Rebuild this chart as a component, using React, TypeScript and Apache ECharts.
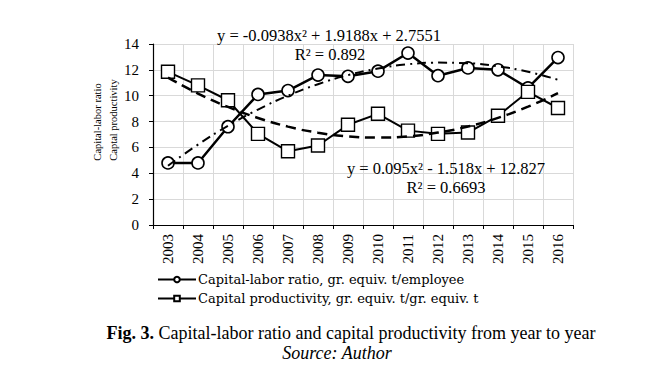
import React, { useEffect, useRef } from "react";
import * as echarts from "echarts";

const years = ["2003", "2004", "2005", "2006", "2007", "2008", "2009", "2010", "2011", "2012", "2013", "2014", "2015", "2016"];
const laborRatio = [4.8, 4.8, 7.6, 10.1, 10.4, 11.6, 11.5, 11.9, 13.3, 11.55, 12.15, 12.0, 10.6, 12.95];
const productivity = [11.85, 10.8, 9.65, 7.05, 5.7, 6.15, 7.75, 8.6, 7.3, 7.05, 7.15, 8.45, 10.3, 9.05];
// Trend lines as printed on the chart (polynomial, order 2)
const laborTrend = [4.58, 6.22, 7.67, 8.93, 10.0, 10.89, 11.59, 12.1, 12.43, 12.56, 12.51, 12.27, 11.85, 11.23];
const productivityTrend = [11.4, 10.17, 9.13, 8.28, 7.61, 7.14, 6.86, 6.76, 6.86, 7.15, 7.62, 8.29, 9.15, 10.2];
const yTicks = [0, 2, 4, 6, 8, 10, 12, 14];
const seriesNames = ["Capital-labor ratio, gr. equiv. t/employee", "Capital productivity, gr. equiv. t/gr. equiv. t"];
const eq1 = ["y = -0.0938x² + 1.9188x + 2.7551", "R² = 0.892"];
const eq2 = ["y = 0.095x² - 1.518x + 12.827", "R² = 0.6693"];

const SERIF = "Liberation Serif";

function txt(text: string, x: number, y: number, size: number, extra: any = {}) {
  const style = extra.fontStyle || "normal";
  const weight = extra.fontWeight || "normal";
  return {
    type: "text",
    x,
    y,
    z: 10,
    rotation: extra.rotation || 0,
    style: {
      text,
      font: `${style} ${weight} ${size}px "${SERIF}"`,
      fontFamily: SERIF,
      fontSize: size,
      fontStyle: style,
      fontWeight: weight,
      fill: "#000",
      align: extra.align || "center",
      verticalAlign: "middle",
      rich: extra.rich,
    },
  };
}

export default function App() {
  const ref = useRef<HTMLDivElement>(null);
  useEffect(() => {
    if (!ref.current) return;
    const chart = echarts.init(ref.current, null, { renderer: "svg" });
    chart.setOption({
      animation: false,
      backgroundColor: "#fff",
      grid: { left: 153, top: 44, width: 420, height: 181, containLabel: false },
      legend: {
        orient: "vertical",
        left: 152,
        top: 268,
        itemWidth: 38,
        itemHeight: 7,
        itemGap: 6,
        data: seriesNames,
        textStyle: { fontFamily: "DejaVu Serif", fontSize: 13, color: "#000", padding: [0, 0, 0, -3] },
      },
      xAxis: {
        type: "category",
        data: years,
        boundaryGap: true,
        axisLine: { lineStyle: { color: "#000", width: 1.2 } },
        axisTick: { show: true, length: 4, inside: false, lineStyle: { color: "#000" } },
        axisLabel: { rotate: 90, interval: 0, margin: 9, fontFamily: SERIF, fontSize: 15, color: "#000" },
        splitLine: { show: true, lineStyle: { color: "#d9d9d9", width: 1 } },
      },
      yAxis: {
        type: "value",
        min: yTicks[0],
        max: yTicks[yTicks.length - 1],
        interval: 2,
        axisLine: { show: true, lineStyle: { color: "#000", width: 1.2 } },
        axisTick: { show: true, length: 4, lineStyle: { color: "#000" } },
        axisLabel: { margin: 14, fontFamily: SERIF, fontSize: 15, color: "#000" },
        splitLine: { show: true, lineStyle: { color: "#d9d9d9", width: 1 } },
      },
      series: [
        {
          name: seriesNames[0],
          type: "line",
          data: laborRatio,
          symbol: "circle",
          symbolSize: 12,
          lineStyle: { color: "#000", width: 2.5 },
          itemStyle: { color: "#fff", borderColor: "#000", borderWidth: 1.6 },
          z: 3,
        },
        {
          name: seriesNames[1],
          type: "line",
          data: productivity,
          symbol: "rect",
          symbolSize: 13,
          lineStyle: { color: "#000", width: 2 },
          itemStyle: { color: "#fff", borderColor: "#000", borderWidth: 1.4 },
          z: 3,
        },
        {
          name: "trend1",
          type: "line",
          data: laborTrend,
          smooth: true,
          showSymbol: false,
          symbol: "none",
          lineStyle: { color: "#000", width: 2, type: [9, 5, 2, 5] },
          z: 4,
        },
        {
          name: "trend2",
          type: "line",
          data: productivityTrend,
          smooth: true,
          showSymbol: false,
          symbol: "none",
          lineStyle: { color: "#000", width: 2.5, type: [10, 6] },
          z: 4,
        },
      ],
      graphic: [
        txt("Capital-labor ratio", 97, 122, 10.5, { rotation: Math.PI / 2 }),
        txt("Captal productivity", 113, 120, 10.5, { rotation: Math.PI / 2 }),
        txt(eq1[0], 329, 35, 16.5),
        txt(eq1[1], 330, 54, 16.5),
        txt(eq2[0], 446, 168, 16.5),
        txt(eq2[1], 446, 187, 16.5),
        txt("{b|Fig. 3.}{n| Capital-labor ratio and capital productivity from year to year}", 351, 333, 18, {
          rich: {
            b: { fontWeight: "bold", fontSize: 18, fontFamily: SERIF },
            n: { fontWeight: "normal", fontSize: 18, fontFamily: SERIF },
          },
        }),
        txt("Source: Author", 337, 353, 18, { fontStyle: "italic" }),
      ],
    });
    return () => chart.dispose();
  }, []);
  return <div ref={ref} style={{ position: "absolute", left: 0, top: 0, width: 656, height: 391 }} />;
}
